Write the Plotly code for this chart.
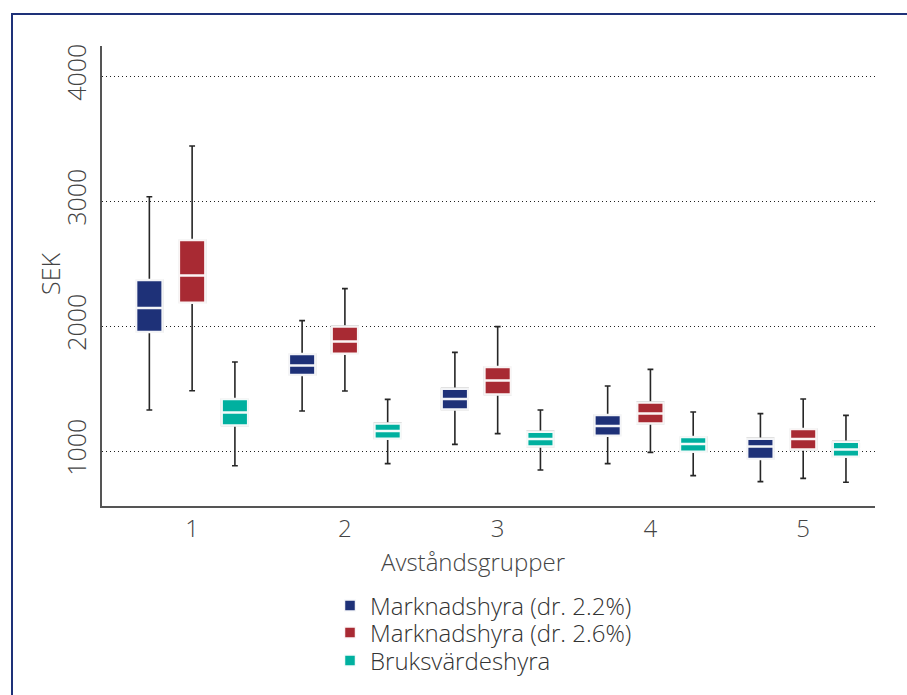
import plotly.graph_objects as go

groups = ["1", "2", "3", "4", "5"]
series_names = ["Marknadshyra (dr. 2.2%)", "Marknadshyra (dr. 2.6%)", "Bruksvärdeshyra"]
colors = ["#1e3178", "#a82a33", "#00b09f"]

# per series: lower whisker, q1, median, q3, upper whisker (SEK)
blue_low = [1328, 1320, 1053, 899, 755]
blue_q1 = [1952, 1608, 1333, 1123, 936]
blue_med = [2144, 1685, 1416, 1200, 1037]
blue_q3 = [2368, 1776, 1499, 1288, 1099]
blue_high = [3034, 2043, 1789, 1520, 1299]

red_low = [1482, 1480, 1139, 989, 781]
red_q1 = [2186, 1779, 1453, 1221, 1013]
red_med = [2405, 1877, 1565, 1301, 1096]
red_q3 = [2688, 1997, 1672, 1389, 1176]
red_high = [3440, 2299, 1995, 1653, 1416]

teal_low = [882, 899, 848, 803, 750]
teal_q1 = [1205, 1099, 1037, 995, 955]
teal_med = [1309, 1160, 1096, 1056, 1013]
teal_q3 = [1416, 1221, 1155, 1112, 1075]
teal_high = [1712, 1413, 1328, 1312, 1285]

stats = [
    (blue_low, blue_q1, blue_med, blue_q3, blue_high),
    (red_low, red_q1, red_med, red_q3, red_high),
    (teal_low, teal_q1, teal_med, teal_q3, teal_high),
]

y_ticks = [1000, 2000, 3000, 4000]
x_title = "Avståndsgrupper"
y_title = "SEK"

FONT = "Open Sans"
TXT = "#444444"

W, H = 907, 695
ml, mr, mt, mb = 102, 32, 46, 189
pw, ph = W - ml - mr, H - mt - mb

def px_x(p):
    return (p - ml) / pw

def px_y(p):
    return (H - mb - p) / ph

legend_ids = ["legend", "legend2", "legend3"]
legend_rows = [606, 633, 661]

fig = go.Figure()

# layer 1: whiskers (dark) + box
for i, (lo, q1, md, q3, hi) in enumerate(stats):
    fig.add_trace(go.Box(
        x=groups, lowerfence=lo, q1=q1, median=md, q3=q3, upperfence=hi,
        name=series_names[i], offsetgroup=str(i), showlegend=False,
        fillcolor=colors[i], line=dict(color="#262626", width=1.6),
        whiskerwidth=0.22, hoverinfo="skip",
    ))
# layer 2: coloured box with white median / edge
for i, (lo, q1, md, q3, hi) in enumerate(stats):
    fig.add_trace(go.Box(
        x=groups, lowerfence=q1, q1=q1, median=md, q3=q3, upperfence=q3,
        name=series_names[i], offsetgroup=str(i), showlegend=True,
        legend=legend_ids[i],
        fillcolor=colors[i], line=dict(color="rgba(255,255,255,0.95)", width=2.5),
        whiskerwidth=0,
    ))

legend_layout = {}
for lid, row in zip(legend_ids, legend_rows):
    legend_layout[lid] = dict(
        x=px_x(330), y=px_y(row), xanchor="left", yanchor="middle",
        font=dict(size=24, color="#333333", family=FONT, weight=300),
        bgcolor="rgba(0,0,0,0)", itemwidth=30,
    )

fig.update_layout(
    width=W, height=H,
    margin=dict(l=ml, r=mr, t=mt, b=mb, pad=0, autoexpand=False),
    paper_bgcolor="white", plot_bgcolor="white",
    font=dict(family=FONT, size=24, color=TXT, weight=300),
    boxmode="group", boxgap=0.16, boxgroupgap=0.38,
    showlegend=True,
    xaxis=dict(
        type="category", range=[-0.59, 4.47],
        showline=True, linecolor="#555555", linewidth=2,
        showgrid=False, ticks="", zeroline=False,
        tickfont=dict(size=24, color=TXT, family=FONT, weight=300), ticklabelstandoff=0,
    ),
    yaxis=dict(
        range=[560, 4240], tickvals=y_ticks, ticktext=[str(v) for v in y_ticks],
        tickangle=-90, showline=True, linecolor="#555555", linewidth=2,
        showgrid=True, gridcolor="#222222", gridwidth=1, griddash="1px,3px",
        zeroline=False, ticks="", ticklabelstandoff=4,
        tickfont=dict(size=25, color=TXT, family=FONT, weight=300),
    ),
    annotations=[
        dict(
            text=x_title, xref="paper", yref="paper",
            x=px_x(473), y=px_y(561), xanchor="center", yanchor="middle",
            showarrow=False, font=dict(size=24, color=TXT, family=FONT, weight=300),
        ),
        dict(
            text=y_title, xref="paper", yref="paper", textangle=-90,
            x=px_x(50), y=px_y(274), xanchor="center", yanchor="middle",
            showarrow=False, font=dict(size=25, color=TXT, family=FONT, weight=300),
        ),
    ],
    shapes=[dict(
        type="rect", xref="paper", yref="paper",
        x0=px_x(12), x1=px_x(1200), y0=px_y(1000), y1=px_y(14),
        line=dict(color="#1e3178", width=2), fillcolor="rgba(0,0,0,0)",
        layer="below",
    )],
    **legend_layout,
)

fig.write_html("out.html")
